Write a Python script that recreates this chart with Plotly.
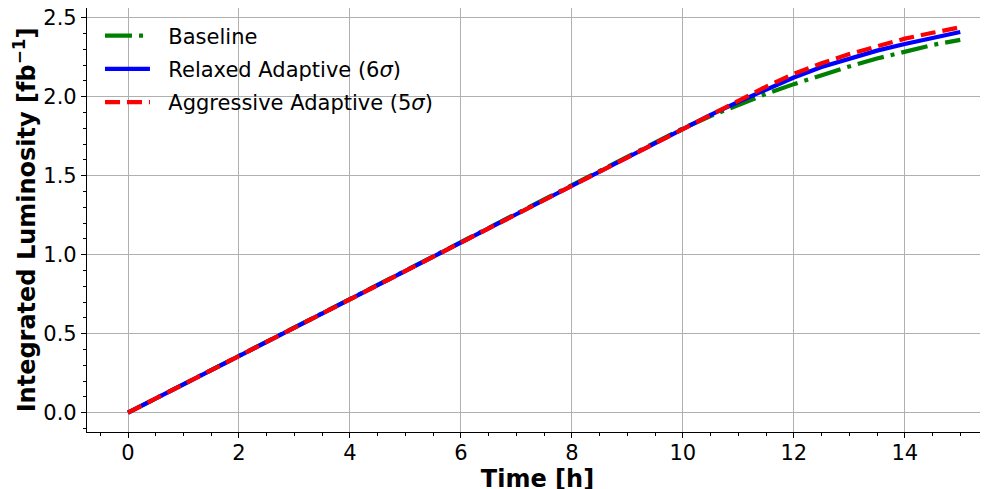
import plotly.graph_objects as go

time_h = [0.0, 0.5, 1.0, 1.5, 2.0, 2.5, 3.0, 3.5, 4.0, 4.5, 5.0, 5.5, 6.0, 6.5, 7.0, 7.5,
          8.0, 8.5, 9.0, 9.5, 10.0, 10.5, 11.0, 11.5, 12.0, 12.5, 13.0, 13.5, 14.0, 14.5, 15.0]

baseline = [0.000, 0.090, 0.180, 0.270, 0.360, 0.450, 0.540, 0.630, 0.720, 0.810, 0.900,
            0.990, 1.080, 1.170, 1.260, 1.350, 1.440, 1.530, 1.620, 1.710, 1.800,
            1.878, 1.950, 2.018, 2.080, 2.138, 2.192, 2.242, 2.288, 2.328, 2.360]
relaxed = [0.000, 0.090, 0.180, 0.270, 0.360, 0.450, 0.540, 0.630, 0.720, 0.810, 0.900,
           0.990, 1.080, 1.170, 1.260, 1.350, 1.440, 1.530, 1.620, 1.710, 1.800,
           1.885, 1.968, 2.048, 2.122, 2.188, 2.242, 2.292, 2.334, 2.374, 2.410]
aggressive = [0.000, 0.090, 0.180, 0.270, 0.360, 0.450, 0.540, 0.630, 0.720, 0.810, 0.900,
              0.990, 1.080, 1.170, 1.260, 1.350, 1.440, 1.530, 1.620, 1.710, 1.800,
              1.890, 1.980, 2.064, 2.145, 2.212, 2.270, 2.322, 2.368, 2.405, 2.440]

x_ticks = [0, 2, 4, 6, 8, 10, 12, 14]
y_ticks = [0.0, 0.5, 1.0, 1.5, 2.0, 2.5]
y_tick_labels = ["0.0", "0.5", "1.0", "1.5", "2.0", "2.5"]

FONT = "DejaVu Sans"
LW = 4.2
PAD = "\u00a0\u00a0"

fig = go.Figure()
fig.add_trace(go.Scatter(x=time_h, y=baseline, mode="lines", name=PAD + "Baseline",
                         legendgroup="a",
                         line=dict(color="#008000", width=LW, dash="27px,7px,4px,7px")))
fig.add_trace(go.Scatter(x=time_h, y=relaxed, mode="lines",
                         name=PAD + "Relaxed Adaptive (6<i>σ</i>)", legendgroup="b",
                         line=dict(color="#0000ff", width=LW)))
fig.add_trace(go.Scatter(x=time_h, y=aggressive, mode="lines",
                         name=PAD + "Aggressive Adaptive (5<i>σ</i>)", legendgroup="c",
                         line=dict(color="#ff0000", width=LW, dash="15px,7px")))

axis_common = dict(
    showline=True, linecolor="black", linewidth=1.2,
    ticks="outside", ticklen=5, tickwidth=1.2, tickcolor="black",
    showgrid=True, gridcolor="#b0b0b0", gridwidth=1,
    zeroline=False, automargin=False, ticklabeloverflow="allow",
    tickfont=dict(family=FONT, size=21, color="black"),
)

fig.update_xaxes(
    range=[-0.739, 15.5], tickvals=x_ticks, ticktext=[str(v) for v in x_ticks],
    mirror=True, ticklabelstandoff=-3,
    minor=dict(ticks="outside", dtick=0.5, ticklen=3, tickwidth=1, tickcolor="black", showgrid=False),
    title=dict(text="Time [h]", font=dict(family=FONT, size=24, color="black", weight="bold"), standoff=0),
    **axis_common,
)
fig.update_yaxes(
    range=[-0.122, 2.562], tickvals=y_ticks, ticktext=y_tick_labels,
    minor=dict(ticks="outside", dtick=0.1, ticklen=3, tickwidth=1, tickcolor="black", showgrid=False),
    title=dict(text="Integrated Luminosity [fb<sup>−1</sup>]",
               font=dict(family=FONT, size=24, color="black", weight="bold"), standoff=0),
    **axis_common,
)

fig.update_layout(
    width=988, height=489,
    margin=dict(l=79, r=8, t=0, b=65),
    paper_bgcolor="white", plot_bgcolor="white",
    font=dict(family=FONT, size=21, color="black"),
    legend=dict(x=0.0144, y=0.9825, xanchor="left", yanchor="top",
                bgcolor="rgba(255,255,255,0)", borderwidth=0, itemwidth=45,
                tracegroupgap=3, font=dict(family=FONT, size=21, color="black")),
    showlegend=True,
)

fig.write_html("out.html")
